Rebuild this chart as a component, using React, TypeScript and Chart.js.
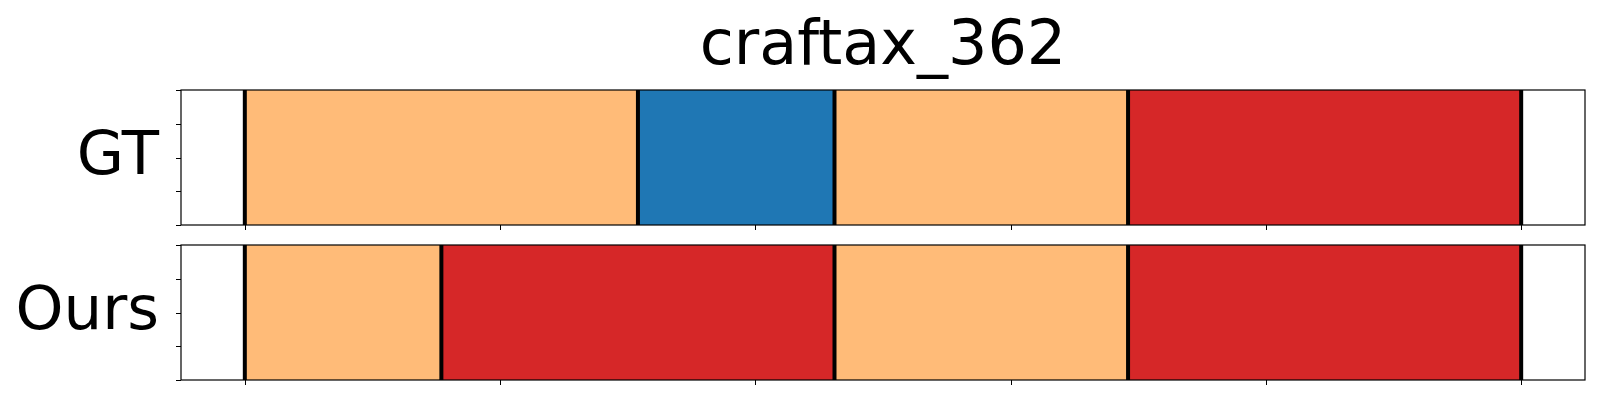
import React, { useEffect, useRef } from "react";
import { Chart, registerables } from "chart.js";

Chart.register(...registerables);

const chartTitle = "craftax_362";
const panelNames = ["GT", "Ours"];
const gtEdges = [0, 154, 231, 346, 500];
const gtPhases = ["orange", "blue", "orange", "red"];
const oursEdges = [0, 77, 231, 346, 500];
const oursPhases = ["orange", "red", "orange", "red"];
const xTicks = [0, 100, 200, 300, 400, 500];
const yTicks = [0, 0.25, 0.5, 0.75, 1];
const xMin = -25;
const xMax = 525;

const phaseColors: Record<string, string> = {
  orange: "#ffbb78",
  blue: "#1f77b4",
  red: "#d62728",
};

const FONT = '"DejaVu Sans", sans-serif';

function makeChart(
  canvas: HTMLCanvasElement,
  name: string,
  edges: number[],
  phases: string[],
  padTop: number,
  xAxisHeight: number,
  withTitle: boolean
) {
  const datasets = phases.map((p, i) => ({
    label: p + i,
    data: [[edges[i], edges[i + 1]]] as any,
    backgroundColor: phaseColors[p],
    borderWidth: 0,
    stack: "s",
    categoryPercentage: 1,
    barPercentage: 1,
  }));

  const overlay = {
    id: "overlay",
    afterDatasetsDraw(chart: any) {
      const { ctx, chartArea } = chart;
      const xs = chart.scales.x;
      const h = chartArea.bottom - chartArea.top;
      ctx.save();
      ctx.strokeStyle = "#000";
      ctx.lineWidth = 4;
      edges.forEach((v) => {
        const px = xs.getPixelForValue(v);
        ctx.beginPath();
        ctx.moveTo(px, chartArea.top);
        ctx.lineTo(px, chartArea.bottom);
        ctx.stroke();
      });
      ctx.lineWidth = 1.2;
      ctx.strokeRect(chartArea.left, chartArea.top, chartArea.right - chartArea.left, h);
      ctx.lineWidth = 1;
      yTicks.forEach((v) => {
        const py = Math.round(chartArea.bottom - v * h) + 0.5;
        ctx.beginPath();
        ctx.moveTo(chartArea.left - 5, py);
        ctx.lineTo(chartArea.left, py);
        ctx.stroke();
      });
      xTicks.forEach((v) => {
        const px = Math.round(xs.getPixelForValue(v)) + 0.5;
        ctx.beginPath();
        ctx.moveTo(px, chartArea.bottom);
        ctx.lineTo(px, chartArea.bottom + 5);
        ctx.stroke();
      });
      ctx.restore();
    },
    afterDraw(chart: any) {
      const { ctx, chartArea } = chart;
      ctx.save();
      ctx.fillStyle = "#000";
      ctx.font = `61px ${FONT}`;
      ctx.textBaseline = "alphabetic";
      ctx.textAlign = "right";
      ctx.fillText(name, 159, (chartArea.top + chartArea.bottom) / 2 + 16.5);
      if (withTitle) {
        ctx.font = `62px ${FONT}`;
        ctx.textAlign = "center";
        ctx.fillText(chartTitle, (chartArea.left + chartArea.right) / 2, 63.5);
      }
      ctx.restore();
    },
  };

  return new Chart(canvas, {
    type: "bar",
    data: { labels: [name], datasets },
    options: {
      indexAxis: "y",
      animation: false,
      responsive: false,
      devicePixelRatio: 1,
      layout: { padding: { top: padTop, right: 15, left: 0, bottom: 0 } },
      plugins: {
        legend: { display: false },
        tooltip: { enabled: false },
        title: { display: false },
      },
      scales: {
        x: {
          type: "linear",
          min: xMin,
          max: xMax,
          stacked: false,
          afterFit: (s: any) => {
            s.height = xAxisHeight;
          },
          ticks: { display: false },
          grid: { display: false },
          border: { display: false },
        },
        y: {
          type: "category",
          display: true,
          stacked: true,
          ticks: { display: false },
          grid: { display: false },
          border: { display: false },
          afterFit: (s: any) => {
            s.width = 181;
          },
        },
      } as any,
    },
    plugins: [overlay],
  } as any);
}

export default function App() {
  const topRef = useRef<HTMLCanvasElement>(null);
  const botRef = useRef<HTMLCanvasElement>(null);

  useEffect(() => {
    const c1 = makeChart(topRef.current!, panelNames[0], gtEdges, gtPhases, 90, 10, true);
    const c2 = makeChart(botRef.current!, panelNames[1], oursEdges, oursPhases, 10, 20, false);
    return () => {
      c1.destroy();
      c2.destroy();
    };
  }, []);

  return (
    <div style={{ position: "absolute", left: 0, top: 0, width: 1600, height: 400, background: "#fff" }}>
      <canvas
        ref={topRef}
        width={1600}
        height={235}
        style={{ position: "absolute", left: 0, top: 0, width: 1600, height: 235 }}
      />
      <canvas
        ref={botRef}
        width={1600}
        height={165}
        style={{ position: "absolute", left: 0, top: 235, width: 1600, height: 165 }}
      />
    </div>
  );
}
